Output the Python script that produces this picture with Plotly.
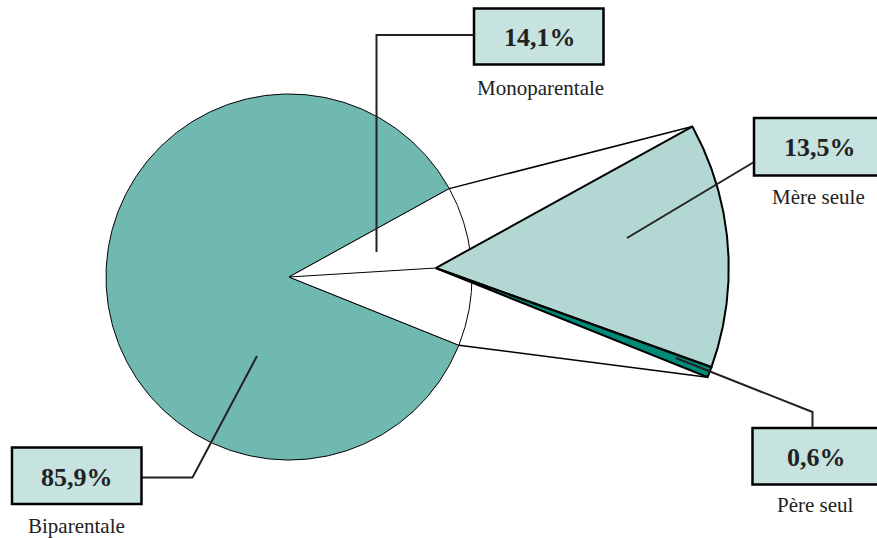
import math
import plotly.graph_objects as go

# Household structure: main split and breakdown of single-parent households
main_labels = ["Biparentale", "Monoparentale"]
main_values = [85.9, 14.1]
sub_labels = ["Mère seule", "Père seul"]
sub_values = [13.5, 0.6]
value_texts = ["85,9%", "14,1%", "13,5%", "0,6%"]

TEAL = "#6fb9b1"
LIGHT = "#b3d8d4"
DARK = "#008a78"
BOX = "#c6e3df"
INK = "#222222"
FONT = "Liberation Serif"

W, H = 877, 538

# geometry of the two pies (in pixel-like plot units, y pointing down)
cx, cy, r = 289.0, 277.0, 183.0
mid_deg = 3.5                      # direction of the exploded slice
explode = 147.0
sx = cx + explode * math.cos(math.radians(mid_deg))
sy = cy - explode * math.sin(math.radians(mid_deg))
sr = 293.0


def pt(x0, y0, rad, deg):
    return (x0 + rad * math.cos(math.radians(deg)),
            y0 - rad * math.sin(math.radians(deg)))


def sector(x0, y0, rad, a0, a1, n=120):
    xs, ys = [x0], [y0]
    for i in range(n + 1):
        a = a0 + (a1 - a0) * i / n
        px, py = pt(x0, y0, rad, a)
        xs.append(px)
        ys.append(py)
    xs.append(x0)
    ys.append(y0)
    return xs, ys


total = sum(main_values)
mono_span = 360.0 * main_values[1] / total
bip_span = 360.0 * main_values[0] / total
mono_a0 = mid_deg + mono_span / 2      # upper edge
mono_a1 = mid_deg - mono_span / 2      # lower edge

fig = go.Figure()

# main pie: biparentale part (teal) and monoparentale part (white)
bx, by = sector(cx, cy, r, mono_a0, mono_a0 + bip_span, n=400)
fig.add_trace(go.Scatter(x=bx, y=by, mode="lines", fill="toself", fillcolor=TEAL,
                         line=dict(color="black", width=1), hoverinfo="skip", showlegend=False))
mx, my = sector(cx, cy, r, mono_a0, mono_a1)
fig.add_trace(go.Scatter(x=mx, y=my, mode="lines", fill="toself", fillcolor="white",
                         line=dict(color="black", width=1), hoverinfo="skip", showlegend=False))

# link between the two centres and connectors to the breakdown fan
fig.add_trace(go.Scatter(x=[cx, sx], y=[cy, sy], mode="lines",
                         line=dict(color="black", width=1), hoverinfo="skip", showlegend=False))
for a in (mono_a0, mono_a1):
    p1 = pt(cx, cy, r, a)
    p2 = pt(sx, sy, sr, a)
    fig.add_trace(go.Scatter(x=[p1[0], p2[0]], y=[p1[1], p2[1]], mode="lines",
                             line=dict(color="black", width=1.5), hoverinfo="skip", showlegend=False))

# breakdown fan: the single-parent slice magnified
start = mono_a0
for val, col in zip(sub_values, [LIGHT, DARK]):
    span = mono_span * val / main_values[1]
    fx, fy = sector(sx, sy, sr, start, start - span)
    fig.add_trace(go.Scatter(x=fx, y=fy, mode="lines", fill="toself", fillcolor=col,
                             line=dict(color="black", width=2), hoverinfo="skip", showlegend=False))
    start -= span

# leader lines
leaders = [
    [(376.5, 252), (376.5, 35), (474, 35)],
    [(627, 238), (754, 162)],
    [(676, 358), (812.5, 412), (812.5, 428)],
    [(257, 356), (192.5, 477.5), (141, 477.5)],
]
for path in leaders:
    fig.add_trace(go.Scatter(x=[p[0] for p in path], y=[p[1] for p in path], mode="lines",
                             line=dict(color=INK, width=2), hoverinfo="skip", showlegend=False))

# value boxes and category captions
boxes = [
    (12, 447.5, 141.5, 504, value_texts[0], (77, 477), main_labels[0], (76, 526)),
    (474, 8.5, 603.5, 64.5, value_texts[1], (540, 37), main_labels[1], (540, 88)),
    (754, 118, 890, 175.5, value_texts[2], (820, 147), sub_labels[0], (818, 197)),
    (752.5, 428, 890, 484.5, value_texts[3], (816, 457), sub_labels[1], (815, 505)),
]
for x0, y0, x1, y1, txt, tpos, cap, cpos in boxes:
    fig.add_shape(type="rect", x0=x0, y0=y0, x1=x1, y1=y1, xref="x", yref="y",
                  fillcolor=BOX, line=dict(color="black", width=2.5), layer="above")
    fig.add_annotation(x=tpos[0], y=tpos[1], text=f"<b>{txt}</b>", showarrow=False,
                       font=dict(family=FONT, size=26, color=INK), xanchor="center", yanchor="middle")
    fig.add_annotation(x=cpos[0], y=cpos[1], text=cap, showarrow=False,
                       font=dict(family=FONT, size=21, color=INK), xanchor="center", yanchor="middle")

fig.update_layout(
    width=W, height=H, autosize=False,
    margin=dict(l=0, r=0, t=0, b=0),
    paper_bgcolor="white", plot_bgcolor="white",
    xaxis=dict(range=[0, W], visible=False, fixedrange=True),
    yaxis=dict(range=[H, 0], visible=False, fixedrange=True),
    showlegend=False,
)

fig.write_html("out.html")
